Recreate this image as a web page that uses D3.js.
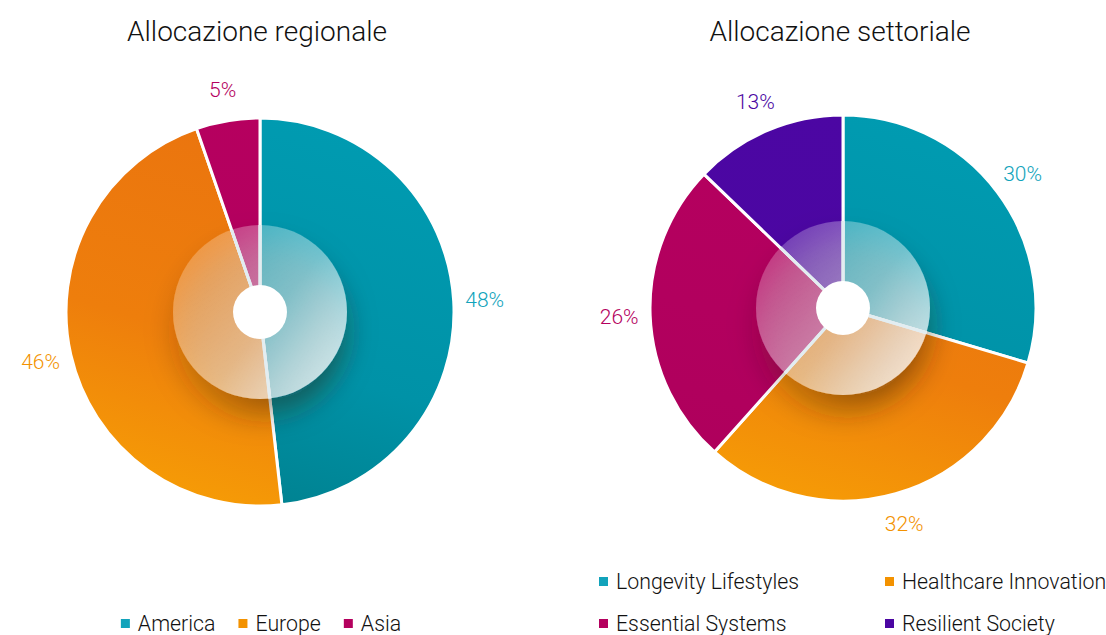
<!DOCTYPE html>
<html>
<head>
<meta charset="utf-8">
<script src="https://cdn.jsdelivr.net/npm/d3@7"></script>
<style>
  html, body { margin: 0; padding: 0; background: #fff; }
  svg text { font-family: Roboto, "Noto Sans", sans-serif; font-weight: 300; }
</style>
</head>
<body>
<div id="chart"></div>
<script>
// --- DATA ---
const regionNames = ["America", "Europe", "Asia"];
const regionValues = [48.2, 46.5, 5.3];
const regionLabels = ["48%", "46%", "5%"];

const sectorNames = ["Longevity Lifestyles", "Healthcare Innovation", "Essential Systems", "Resilient Society"];
const sectorValues = [29.6, 32.0, 25.6, 12.8];
const sectorLabels = ["30%", "32%", "26%", "13%"];

const titles = ["Allocazione regionale", "Allocazione settoriale"];

// palette: [top colour, middle colour, bottom colour, label colour]
const palette = {
    teal:    ["#009bb1", "#0092a7", "#00808e", "#12a3bb"],
    orange:  ["#ea730f", "#ee7e0c", "#f69c06", "#f39200"],
    magenta: ["#b6005f", "#b2005e", "#ae005c", "#b4005e"],
    purple:  ["#4c06a3", "#4b06a2", "#4a05a0", "#4b06a2"]
};
const regionColors = ["teal", "orange", "magenta"];
const sectorColors = ["teal", "orange", "magenta", "purple"];

const W = 1106, H = 635;
const svg = d3.select("#chart").append("svg")
    .attr("width", W).attr("height", H);
const defs = svg.append("defs");

// overlay gradient + shadow
const og = defs.append("linearGradient").attr("id", "overlay")
    .attr("x1", "0").attr("y1", "0.1").attr("x2", "1").attr("y2", "0.9");
og.append("stop").attr("offset", "0").attr("stop-color", "#fff").attr("stop-opacity", 0.18);
og.append("stop").attr("offset", "0.55").attr("stop-color", "#fff").attr("stop-opacity", 0.42);
og.append("stop").attr("offset", "1").attr("stop-color", "#fff").attr("stop-opacity", 0.82);

const shadow = defs.append("filter").attr("id", "shadow")
    .attr("x", "-50%").attr("y", "-50%").attr("width", "200%").attr("height", "200%");
shadow.append("feDropShadow").attr("dx", 0).attr("dy", 16).attr("stdDeviation", 14)
    .attr("flood-color", "#2e2008").attr("flood-opacity", 0.7);

function drawDonut(id, cx, cy, R, names, values, labels, colors, title) {
    const g = svg.append("g").attr("transform", `translate(${cx},${cy})`);

    colors.forEach(c => {
        const lg = defs.append("linearGradient").attr("id", `${id}-${c}`)
            .attr("gradientUnits", "userSpaceOnUse")
            .attr("x1", R * 0.3).attr("y1", -R).attr("x2", -R * 0.3).attr("y2", R);
        lg.append("stop").attr("offset", "0").attr("stop-color", palette[c][0]);
        lg.append("stop").attr("offset", "0.6").attr("stop-color", palette[c][1]);
        lg.append("stop").attr("offset", "1").attr("stop-color", palette[c][2]);
    });

    const pie = d3.pie().sort(null).value(d => d)(values);
    const arc = d3.arc().innerRadius(0).outerRadius(R);

    g.selectAll("path.slice").data(pie).join("path")
        .attr("class", "slice")
        .attr("d", arc)
        .attr("fill", (d, i) => `url(#${id}-${colors[i]})`)
        .attr("stroke", "#fff")
        .attr("stroke-width", 3)
        .attr("stroke-linejoin", "round");

    // inner translucent disc with shadow
    g.append("circle").attr("r", 87)
        .attr("fill", "url(#overlay)")
        .attr("filter", "url(#shadow)");

    // redraw separators across the disc so they stay visible
    g.selectAll("line.sep").data(pie).join("line")
        .attr("class", "sep")
        .attr("x1", 0).attr("y1", 0)
        .attr("x2", d => Math.sin(d.startAngle) * 87)
        .attr("y2", d => -Math.cos(d.startAngle) * 87)
        .attr("stroke", "#e2edf1").attr("stroke-width", 3);

    g.append("circle").attr("r", 27).attr("fill", "#fff");

    const labelArc = d3.arc().innerRadius(R + 31).outerRadius(R + 31);
    g.selectAll("text.lbl").data(pie).join("text")
        .attr("class", "lbl")
        .attr("transform", d => `translate(${labelArc.centroid(d)})`)
        .attr("text-anchor", "middle")
        .attr("dy", "0.35em")
        .attr("font-size", 21)
        .attr("fill", (d, i) => palette[colors[i]][3])
        .text((d, i) => labels[i]);

    svg.append("text").attr("x", cx - 3).attr("y", 41)
        .attr("text-anchor", "middle").attr("font-size", 28)
        .attr("fill", "#111").text(title);
}

drawDonut("reg", 260, 312, 194, regionNames, regionValues, regionLabels, regionColors, titles[0]);
drawDonut("sec", 843, 308, 193, sectorNames, sectorValues, sectorLabels, sectorColors, titles[1]);

// --- LEGENDS ---
function legendItem(g, x, y, name, color) {
    const it = g.append("g").attr("transform", `translate(${x},${y})`);
    it.append("rect").attr("x", 0).attr("y", -12).attr("width", 9).attr("height", 9)
        .attr("fill", palette[color][3]);
    const t = it.append("text").attr("x", 17).attr("y", 0)
        .attr("font-size", 21.3).attr("fill", "#111").text(name);
    return 17 + t.node().getComputedTextLength();
}

// left legend: one row, centred under the first donut
const leftLeg = svg.append("g");
let lx = 0;
regionNames.forEach((n, i) => {
    const w = legendItem(leftLeg, lx, 631, n, regionColors[i]);
    lx += w + 23;
});
const leftW = lx - 23;
leftLeg.attr("transform", `translate(${261 - leftW / 2},0)`);

// right legend: two columns
const rightLeg = svg.append("g");
const colX = [599, 885];
const rowY = [589, 631];
sectorNames.forEach((n, i) => {
    legendItem(rightLeg, colX[i % 2], rowY[Math.floor(i / 2)], n, sectorColors[i]);
});
</script>
</body>
</html>
